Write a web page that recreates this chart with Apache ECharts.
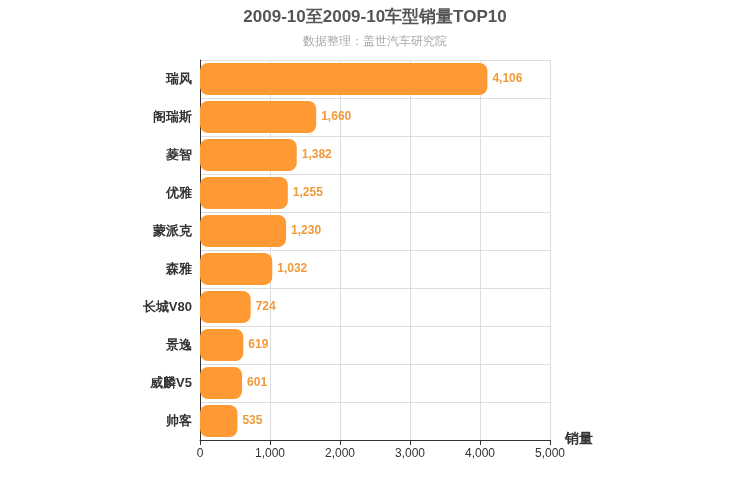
<!DOCTYPE html>
<html><head><meta charset="utf-8">
<script src="https://cdn.jsdelivr.net/npm/echarts@6/dist/echarts.min.js"></script>
<style>html,body{margin:0;padding:0}#c{width:750px;height:500px}</style>
</head><body><div id="c"></div>
<script>
const categories = ["瑞风","阁瑞斯","菱智","优雅","蒙派克","森雅","长城V80","景逸","威麟V5","帅客"];
const values = [4106,1660,1382,1255,1230,1032,724,619,601,535];
const chart = echarts.init(document.getElementById('c'));
chart.setOption({
  animation:false,
  title:{text:'2009-10至2009-10车型销量TOP10',subtext:'数据整理：盖世汽车研究院',left:'center',top:4,
    textStyle:{fontSize:17,fontWeight:'bold',color:'#555'},subtextStyle:{fontSize:12,color:'#aaa'},itemGap:10},
  grid:{left:200,right:200,top:60,bottom:60},
  xAxis:{type:'value',min:0,max:5000,interval:1000,name:'销量',nameLocation:'end',nameGap:15,
    nameTextStyle:{fontSize:14,fontWeight:'bold',color:'#333',verticalAlign:'top',padding:[-8,0,0,0]},
    axisLine:{show:true,lineStyle:{color:'#333'}},axisTick:{show:true},
    axisLabel:{color:'#333',fontSize:12},splitLine:{lineStyle:{color:'#ddd'}}},
  yAxis:{type:'category',data:categories,inverse:true,
    axisLine:{show:true,lineStyle:{color:'#333'}},axisTick:{show:false},
    axisLabel:{color:'#333',fontSize:13,fontWeight:'bold'},splitLine:{show:true,lineStyle:{color:'#ddd'}}},
  series:[{type:'bar',data:values,barWidth:32,itemStyle:{color:'#ff9933',borderRadius:8},
    label:{show:true,position:'right',color:'#f09a3a',fontSize:12,fontWeight:'bold',
      formatter:p=>p.value.toLocaleString('en-US')}}]
});
</script></body></html>
